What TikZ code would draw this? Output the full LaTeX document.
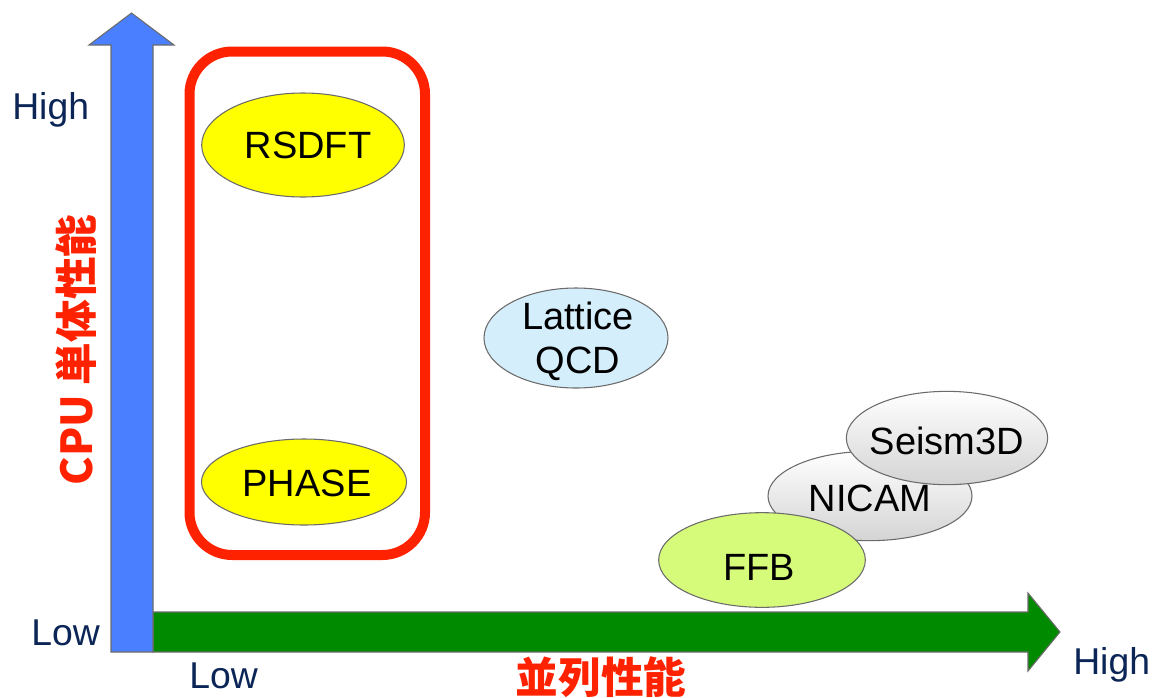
\documentclass[tikz,border=0pt]{standalone}
\usepackage{fontspec}
\setmainfont{Liberation Sans}
\newfontfamily\cjk{Noto Sans CJK JP}
\usetikzlibrary{shapes.geometric}
\definecolor{axisblue}{HTML}{4A80FF}
\definecolor{axisgreen}{HTML}{008A00}
\definecolor{edgegray}{HTML}{6B6B6B}
\definecolor{labelnavy}{HTML}{0B2556}
\definecolor{titlered}{HTML}{FF2200}
\definecolor{appyellow}{HTML}{FFFF00}
\definecolor{appblue}{HTML}{D5EEFB}
\definecolor{appgreen}{HTML}{D6FA7A}
\definecolor{appgray}{HTML}{D4D4D4}
\tikzset{
  app/.style={ellipse, draw=edgegray, line width=0.8pt, inner sep=0pt},
  grayapp/.style={app, top color=white, bottom color=appgray},
  applabel/.style={font=\fontsize{28.5}{33}\selectfont, text=black, align=center, inner sep=0pt},
  axislabel/.style={font=\fontsize{28}{33}\selectfont, text=labelnavy, inner sep=0pt},
  axistitle/.style={font=\cjk\bfseries\fontsize{32}{36}\selectfont, text=titlered, inner sep=0pt},
}
\begin{document}
\begin{tikzpicture}[x=0.75pt, y=-0.75pt]
\useasboundingbox (0,0) rectangle (1157,697);

% horizontal axis arrow (parallel performance)
\draw[fill=axisgreen, draw=edgegray, line width=0.8pt]
  (153,612) -- (1028,612) -- (1028,593) -- (1060,632) -- (1028,671)
  -- (1028,652) -- (153,652) -- cycle;
% vertical axis arrow (single CPU performance)
\draw[fill=axisblue, draw=edgegray, line width=0.8pt]
  (111,652) -- (153,652) -- (153,45) -- (174,45) -- (131.5,13)
  -- (89,45) -- (111,45) -- cycle;

% group frame
\draw[titlered, line width=7.5pt, rounded corners=32pt]
  (189.5,51.5) rectangle (425,555);

% applications (shapes sized in px: width x 0.75pt, height x 0.75pt)
\node[app, fill=appyellow, minimum width=152pt, minimum height=78pt] (rsdft) at (303,145) {};
\node[applabel] (rsdftlabel) at (308,145) {RSDFT};
\node[app, fill=appyellow, minimum width=153.75pt, minimum height=64.5pt] (phase) at (304,482) {};
\node[applabel] (phaselabel) at (307,483) {PHASE};
\node[app, fill=appblue, minimum width=138pt, minimum height=75pt] (lqcd) at (576,338) {};
\node[applabel] (lqcdlabel) at (578,341) {Lattice\\QCD};
\node[grayapp, minimum width=153pt, minimum height=67pt] (nicam) at (870,496) {};
\node[applabel] (nicamlabel) at (870,498) {NICAM};
\node[grayapp, minimum width=151pt, minimum height=70pt] (seism) at (947,438) {};
\node[applabel] (seismlabel) at (947,441) {Seism3D};
\node[app, fill=appgreen, minimum width=155pt, minimum height=71pt] (ffb) at (762,560) {};
\node[applabel] (ffblabel) at (759,567) {FFB};

% axis labels
\node[axislabel, anchor=west] (yhigh) at (12,110) {High};
\node[axislabel, anchor=west] (ylow) at (31,633) {Low};
\node[axislabel, anchor=west] (xlow) at (189,676) {Low};
\node[axislabel, anchor=west] (xhigh) at (1073,665) {High};

% axis titles
\node[axistitle, rotate=90] (ytitle) at (76,350) {CPU 単体性能};
\node[axistitle] (xtitle) at (601,677) {並列性能};
\end{tikzpicture}
\end{document}
